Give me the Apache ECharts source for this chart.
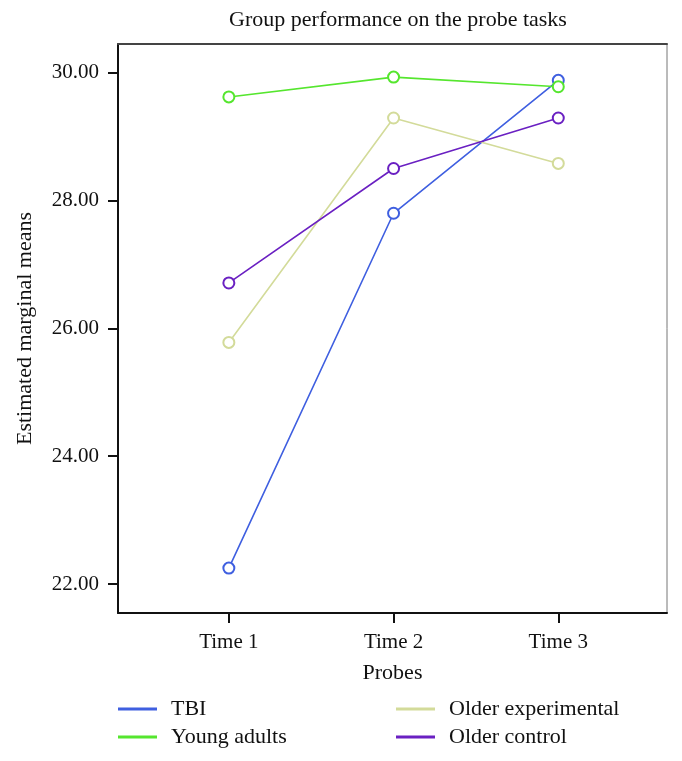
<!DOCTYPE html>
<html>
<head>
<meta charset="utf-8">
<script src="https://cdn.jsdelivr.net/npm/echarts@6/dist/echarts.min.js"></script>
<style>html,body{margin:0;padding:0;background:#fff}#c{width:682px;height:761px}</style>
</head>
<body>
<div id="c"></div>
<script>
const categories = ["Time 1", "Time 2", "Time 3"];
const seriesNames = ["TBI", "Young adults", "Older experimental", "Older control"];
const tbi = [22.25, 27.80, 29.88];
const youngAdults = [29.62, 29.93, 29.78];
const olderExperimental = [25.78, 29.29, 28.58];
const olderControl = [26.71, 28.50, 29.29];
const yTicks = [22, 24, 26, 28, 30];
const colors = ["#3f5fe0", "#55e62e", "#d3db9a", "#6a20c2"];

const values = [tbi, youngAdults, olderExperimental, olderControl];
const xPos = categories.map((c, i) => i + 1);
const font = "Liberation Serif";

const chart = echarts.init(document.getElementById('c'), null, {renderer: 'canvas'});
chart.setOption({
  animation: false,
  backgroundColor: '#fff',
  title: {
    text: 'Group performance on the probe tasks',
    left: 393, top: 4, textAlign: 'center',
    textStyle: {fontFamily: font, fontSize: 22, fontWeight: 'normal', color: '#111'}
  },
  grid: {left: 118, right: 15, top: 44, bottom: 148, show: true, borderColor: '#777', borderWidth: 1},
  xAxis: [{
    type: 'value', min: 0.327, max: 3.66,
    name: 'Probes', nameLocation: 'middle', nameGap: 49,
    nameTextStyle: {fontFamily: font, fontSize: 22, color: '#111'},
    axisLine: {show: true, lineStyle: {color: '#111', width: 2}},
    axisTick: {show: true, length: 10, lineStyle: {color: '#111', width: 2}, customValues: xPos},
    axisLabel: {fontFamily: font, fontSize: 21, color: '#111', margin: 19, customValues: xPos,
      formatter: v => categories[Math.round(v) - 1] || ''},
    splitLine: {show: false}
  }, {
    type: 'value', position: 'top', min: 0.327, max: 3.66,
    axisLine: {show: true, lineStyle: {color: '#444', width: 2}},
    axisTick: {show: false}, axisLabel: {show: false}, splitLine: {show: false}
  }],
  yAxis: {
    type: 'value', min: 21.547, max: 30.448,
    name: 'Estimated marginal means', nameLocation: 'middle', nameGap: 82, nameRotate: 90,
    nameTextStyle: {fontFamily: font, fontSize: 22, color: '#111'},
    axisLine: {show: true, lineStyle: {color: '#111', width: 2}},
    axisTick: {show: true, length: 10, lineStyle: {color: '#111', width: 2}, customValues: yTicks},
    axisLabel: {fontFamily: font, fontSize: 21, color: '#111', margin: 19, customValues: yTicks,
      formatter: v => v.toFixed(2)},
    splitLine: {show: false}
  },
  legend: [{
    data: seriesNames.slice(0, 2), orient: 'vertical', left: 118, top: 698, itemGap: 6, padding: 0,
    icon: 'rect', itemWidth: 37, itemHeight: 1.2,
    textStyle: {fontFamily: font, fontSize: 22, color: '#111', padding: [0, 0, 0, 10]}
  }, {
    data: seriesNames.slice(2), orient: 'vertical', left: 396, top: 698, itemGap: 6, padding: 0,
    icon: 'rect', itemWidth: 37, itemHeight: 1.2,
    textStyle: {fontFamily: font, fontSize: 22, color: '#111', padding: [0, 0, 0, 10]}
  }],
  series: seriesNames.map((n, k) => ({
    name: n, type: 'line', xAxisIndex: 0,
    data: values[k].map((v, i) => [xPos[i], v]),
    symbol: 'emptyCircle', symbolSize: 11,
    lineStyle: {color: colors[k], width: 1.6},
    itemStyle: {color: colors[k], borderColor: colors[k], borderWidth: 1.5},
    color: colors[k]
  }))
});
</script>
</body>
</html>
